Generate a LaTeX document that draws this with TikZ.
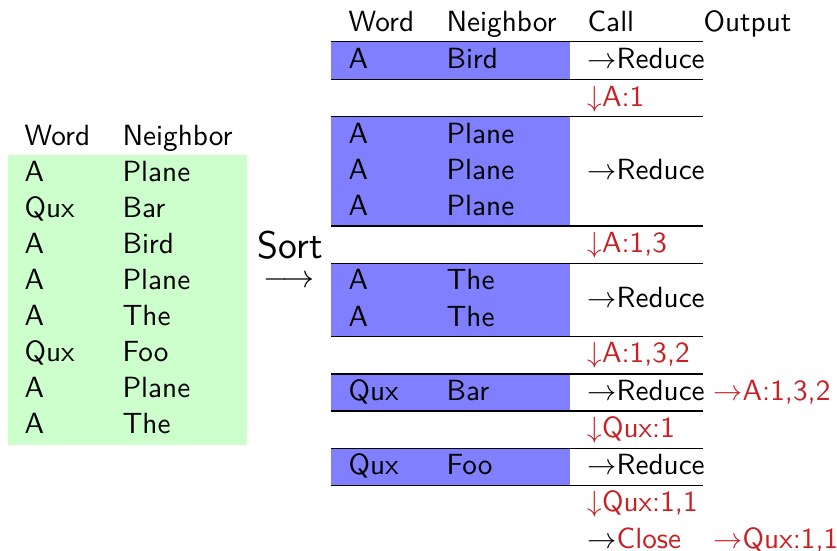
\documentclass[tikz,border=0pt]{standalone}
\definecolor{lightgreen}{RGB}{204,255,204}
\definecolor{cellblue}{RGB}{128,128,255}
\definecolor{alertred}{RGB}{200,32,36}
\begin{document}
\begin{tikzpicture}[x=0.375pt,y=-0.375pt,
  txt/.style={anchor=base west, inner sep=0pt, font=\sffamily\fontsize{10.95}{13}\selectfont},
  alert/.style={txt, text=alertred},
  rule/.style={draw=black, line width=0.4pt}]
\useasboundingbox (0,0) rectangle (837,550);
% left table
\fill[lightgreen] (8,155) rectangle (247,445);
\node[txt] (lhw) at (24,145) {Word};
\node[txt] (lhn) at (122,145) {Neighbor};
\foreach \w/\n [count=\i] in {A/Plane,Qux/Bar,A/Bird,A/Plane,A/The,Qux/Foo,A/Plane,A/The}{
  \node[txt] (lw\i) at (24,{181+36*(\i-1)}) {\w};
  \node[txt] (ln\i) at (122,{181+36*(\i-1)}) {\n};
}
% sort arrow
\node[txt, font=\sffamily\fontsize{14.4}{17}\selectfont] (sort) at (257,258) {Sort};
\node[inner sep=0pt, font=\fontsize{12}{14}\selectfont] (sortarrow) at (289,287) {$\smash{\longrightarrow}$};
% right table backgrounds
\fill[cellblue] (331,41.7) rectangle (570,79.3);
\fill[cellblue] (331,116.7) rectangle (570,226);
\fill[cellblue] (331,263.3) rectangle (570,336.7);
\fill[cellblue] (331,374) rectangle (570,411);
\fill[cellblue] (331,448.3) rectangle (570,485.7);
\foreach \y in {41.7,79.3,116.7,226,263.3,336.7,374,411,448.3,485.7}
  \draw[rule] (331,\y) -- (702.5,\y);
% headers
\node[txt] (rhw) at (348,31) {Word};
\node[txt] (rhn) at (446,31) {Neighbor};
\node[txt] (rhc) at (587,31) {Call};
\node[txt] (rho) at (703,31) {Output};
% block 1
\node[txt] (b1w) at (348,68) {A};
\node[txt] (b1n) at (446,68) {Bird};
\node[txt] (b1c) at (587,68) {$\rightarrow$Reduce};
\node[alert] (d1) at (587,106) {$\downarrow$A:1};
% block 2
\node[txt] (b2w1) at (348,143) {A};
\node[txt] (b2n1) at (446,143) {Plane};
\node[txt] (b2w2) at (348,179) {A};
\node[txt] (b2n2) at (446,179) {Plane};
\node[txt] (b2w3) at (348,215) {A};
\node[txt] (b2n3) at (446,215) {Plane};
\node[txt] (b2c) at (587,179) {$\rightarrow$Reduce};
\node[alert] (d2) at (587,252) {$\downarrow$A:1,3};
% block 3
\node[txt] (b3w1) at (348,289) {A};
\node[txt] (b3n1) at (446,289) {The};
\node[txt] (b3w2) at (348,326) {A};
\node[txt] (b3n2) at (446,326) {The};
\node[txt] (b3c) at (587,307) {$\rightarrow$Reduce};
\node[alert] (d3) at (587,362) {$\downarrow$A:1,3,2};
% block 4
\node[txt] (b4w) at (348,400) {Qux};
\node[txt] (b4n) at (446,400) {Bar};
\node[txt] (b4c) at (587,400) {$\rightarrow$Reduce};
\node[alert] (o1) at (713,400) {$\rightarrow$A:1,3,2};
\node[alert] (d4) at (587,437) {$\downarrow$Qux:1};
% block 5
\node[txt] (b5w) at (348,474) {Qux};
\node[txt] (b5n) at (446,474) {Foo};
\node[txt] (b5c) at (587,474) {$\rightarrow$Reduce};
\node[alert] (d5) at (587,511) {$\downarrow$Qux:1,1};
\node[txt] (close) at (587,548) {$\rightarrow$\textcolor{alertred}{Close}};
\node[alert] (o2) at (713,548) {$\rightarrow$Qux:1,1};
\end{tikzpicture}
\end{document}
